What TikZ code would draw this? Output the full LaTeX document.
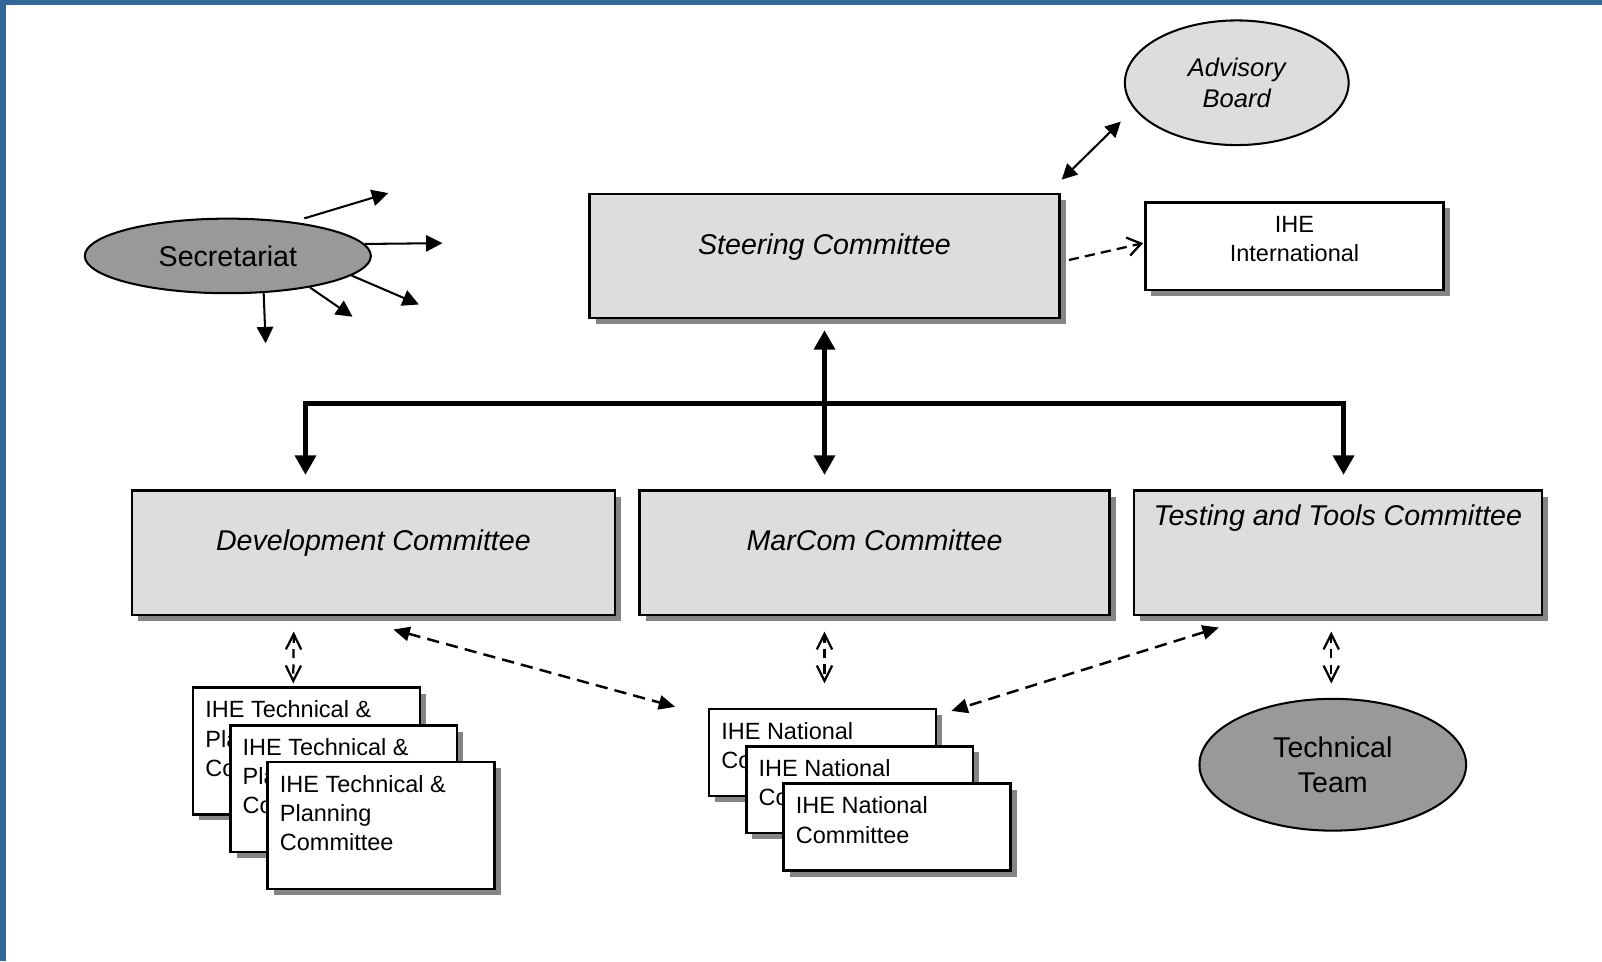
\documentclass[tikz,border=0pt]{standalone}
\usepackage{fontspec}
\setmainfont{Liberation Sans}
\usetikzlibrary{arrows.meta,shadows,shapes.geometric,calc}
\definecolor{boxgray}{HTML}{DDDDDD}
\definecolor{ovalgray}{HTML}{999999}
\definecolor{shade}{HTML}{858585}
\definecolor{frameblue}{HTML}{336699}
\begin{document}
\begin{tikzpicture}[x=1pt,y=-1pt,
    cbox/.style={draw,line width=2.4pt,fill=boxgray,inner sep=0pt,
      drop shadow={shadow xshift=6pt,shadow yshift=-6pt,fill=shade,opacity=1}},
    wbox/.style={cbox,fill=white},
    oval/.style={ellipse,draw,line width=2pt,inner sep=0pt,align=center},
    ctitle/.style={inner sep=0pt,font=\fontsize{28}{34}\selectfont\itshape},
    ctext/.style={inner sep=0pt,align=left,font=\fontsize{23}{28.5}\selectfont},
    fan/.style={line width=2pt,-{Triangle[length=16pt,width=16pt]}},
    twoway/.style={line width=2pt,{Triangle[length=15pt,width=15pt]}-{Triangle[length=15pt,width=15pt]}},
    trunk/.style={line width=5.5pt,{Triangle[length=19pt,width=20pt]}-{Triangle[length=19pt,width=20pt]}},
    liaison/.style={line width=2.4pt,dash pattern=on 12pt off 7pt,
      {Triangle[length=16pt,width=14pt]}-{Triangle[length=16pt,width=14pt]}},
    report/.style={line width=2.2pt,dash pattern=on 10pt off 6pt,-{Straight Barb[length=13pt,width=18pt]}},
    support/.style={line width=2.2pt,dash pattern=on 9pt off 6pt,dash phase=9pt,
      {Straight Barb[length=15pt,width=15pt]}-{Straight Barb[length=15pt,width=15pt]}}]
  \useasboundingbox (0,0) rectangle (1568,941);
  \fill[frameblue] (0,0) rectangle (6,941);
  \fill[frameblue] (0,0) rectangle (1568,5);

  % top row
  \node[oval,fill=ovalgray,minimum width=280pt,minimum height=73pt,
    font=\fontsize{28}{34}\selectfont] (sec) at (223,250.5) {Secretariat};
  \node[cbox,minimum width=460pt,minimum height=121pt] (steer) at (807,250.5) {};
  \node[ctitle] (steer-t) at ($(steer.center)+(0,-8.5)$) {Steering Committee};
  \node[oval,fill=boxgray,minimum width=219pt,minimum height=122pt,
    font=\fontsize{25}{30}\selectfont\itshape] (adv) at (1210.5,81) {Advisory\\Board};
  \node[wbox,minimum width=292pt,minimum height=86pt] (intl) at (1267,241) {};
  \node[ctext,align=center] (intl-t) at ($(intl.center)+(0,-7)$) {IHE\\International};

  % committees
  \node[cbox,minimum width=473pt,minimum height=122pt] (dev) at (365.5,541) {};
  \node[ctitle] (dev-t) at ($(dev.center)+(0,-9)$) {Development Committee};
  \node[cbox,minimum width=460pt,minimum height=122pt] (marcom) at (856,541) {};
  \node[ctitle] (marcom-t) at ($(marcom.center)+(0,-12)$) {MarCom Committee};
  \node[cbox,minimum width=399pt,minimum height=122pt] (tst) at (1309.5,541) {};
  \node[ctitle] (tst-t) at ($(tst.center)+(0,-34)$) {Testing and Tools Committee};

  % stacked committees
  \node[wbox,minimum width=222pt,minimum height=124pt] (tp1) at (300,735) {};
  \node[ctext,anchor=north west] (tp1-t) at ($(tp1.north west)+(13,14)$) {IHE Technical \&\\Planning\\Committee};
  \node[wbox,minimum width=222pt,minimum height=124pt] (tp2) at (336.5,772) {};
  \node[ctext,anchor=north west] (tp2-t) at ($(tp2.north west)+(13,14)$) {IHE Technical \&\\Planning\\Committee};
  \node[wbox,minimum width=222pt,minimum height=124pt] (tp3) at (373,808) {};
  \node[ctext,anchor=north west] (tp3-t) at ($(tp3.north west)+(13,14)$) {IHE Technical \&\\Planning\\Committee};

  \node[wbox,minimum width=222pt,minimum height=85pt] (nat1) at (805,736.5) {};
  \node[ctext,anchor=north west] (nat1-t) at ($(nat1.north west)+(13,14)$) {IHE National\\Committee};
  \node[wbox,minimum width=222pt,minimum height=85pt] (nat2) at (841.5,773) {};
  \node[ctext,anchor=north west] (nat2-t) at ($(nat2.north west)+(13,14)$) {IHE National\\Committee};
  \node[wbox,minimum width=222pt,minimum height=85pt] (nat3) at (878,809.5) {};
  \node[ctext,anchor=north west] (nat3-t) at ($(nat3.north west)+(13,14)$) {IHE National\\Committee};

  \node[oval,fill=ovalgray,minimum width=261pt,minimum height=129pt,
    font=\fontsize{28}{34}\selectfont] (team) at (1304.5,748.5) {Technical\\Team};

  % secretariat fan
  \coordinate (s1) at (380,189);
  \coordinate (s2) at (433,238);
  \coordinate (s3) at (410,298);
  \coordinate (s4) at (345,310);
  \coordinate (s5) at (260,336);
  \draw[fan] ([yshift=5pt]sec.23) -- (s1);
  \draw[fan] (sec.5) -- (s2);
  \draw[fan] (sec.-9) -- (s3);
  \draw[fan] (sec.-21) -- (s4);
  \draw[fan] (sec.-46) -- (s5);

  % steering links
  \draw[twoway] ([xshift=1pt,yshift=13pt]steer.north east) -- ([xshift=-3pt,yshift=-38pt]adv.west);
  \draw[report] ([xshift=8pt,yshift=-4pt]steer.east) -- ([xshift=-1pt,yshift=3pt]intl.west);
  \draw[trunk] ($(steer.south)+(0,11)$) -- ($(steer.south |- marcom.north)+(0,-14)$);
  \coordinate (busL) at (299,395);
  \coordinate (busR) at (1315,395);
  \draw[trunk] ($(busL |- dev.north)+(0,-14)$) -- (busL) -- (busR) -- ($(busR |- tst.north)+(0,-14)$);

  % lower links
  \draw[support] ($(tp1.north)+(-13,-3)$) -- ($(dev.south)+(-78,15)$);
  \draw[liaison] ($(dev.south)+(19.5,13)$) -- ($(nat1.north west)+(-32,-1)$);
  \draw[support] ($(nat1.north)+(2,-24)$) -- ($(marcom.south)+(-49,15)$);
  \draw[liaison] ($(tst.south)+(-116.5,11)$) -- ($(nat1.north east)+(14,3)$);
  \draw[support] ($(team.north)+(-1.5,-14)$) -- ($(tst.south)+(-6.5,15)$);
\end{tikzpicture}
\end{document}
